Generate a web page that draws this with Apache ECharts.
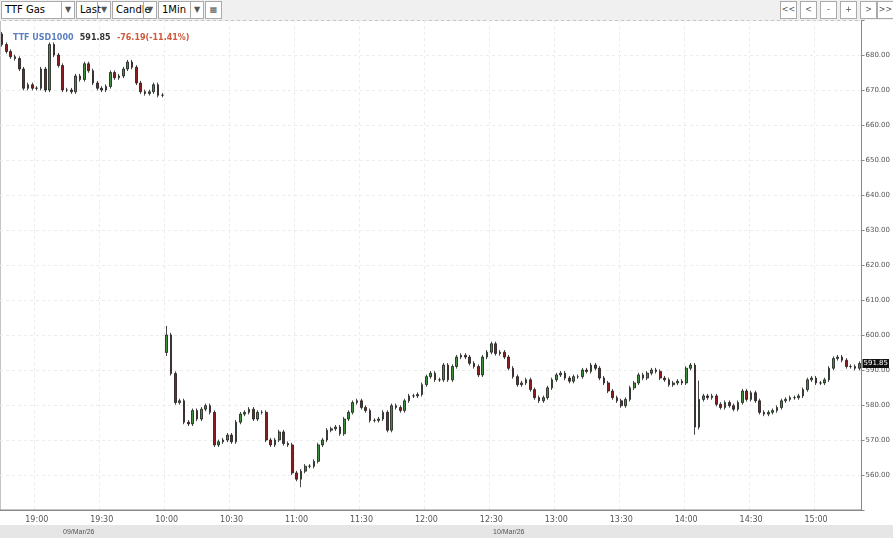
<!DOCTYPE html>
<html>
<head>
<meta charset="utf-8">
<script src="https://cdn.jsdelivr.net/npm/echarts@6/dist/echarts.min.js"></script>
<style>
  body { margin: 0; background: #fff; font-family: "DejaVu Sans", sans-serif; }
  #bar { position: absolute; left: 0; top: 0; width: 893px; height: 20px; background: #f0f0f0; }
  .dd { position: absolute; top: 1px; height: 16px; border: 1px solid #aaa; background: #fff; font-size: 10px; line-height: 16px; padding-left: 3px; box-sizing: content-box; }
  .dd span { position: absolute; right: 0; top: 0; width: 12px; border-left: 1px solid #aaa; text-align: center; font-size: 8px; color: #555; }
  .nb { position: absolute; top: 1px; width: 15px; height: 16px; border: 1px solid #aaa; background: #fff; font-size: 8px; line-height: 16px; text-align: center; color: #555; }
  #chart { position: absolute; left: 0; top: 0; width: 893px; height: 538px; }
</style>
</head>
<body>
<div id="chart"></div>
<div id="bar">
  <div class="dd" style="left:1px;width:69px">TTF Gas<span>▼</span></div>
  <div class="dd" style="left:76px;width:30px">Last<span>▼</span></div>
  <div class="dd" style="left:112px;width:40px">Candle<span>▼</span></div>
  <div class="dd" style="left:158px;width:41px">1Min<span>▼</span></div>
  <div class="nb" style="left:205px">▦</div>
  <div class="nb" style="left:780px">&lt;&lt;</div>
  <div class="nb" style="left:800px">&lt;</div>
  <div class="nb" style="left:820px">-</div>
  <div class="nb" style="left:840px">+</div>
  <div class="nb" style="left:860px">&gt;</div>
  <div class="nb" style="left:877px">&gt;&gt;</div>
</div>
<script>
// session 1: 09/Mar 18:44 - 19:58, 2-minute steps
const closes1 = [683, 681, 679.5, 679, 676, 670.5, 671.5, 670.5, 670.5, 676, 670, 683, 680,
  677, 670, 670, 669.5, 674, 673, 677.5, 675.5, 672, 670.5, 670, 671, 675, 673.5, 674, 676,
  678, 676.5, 672, 669.5, 669, 669.5, 671.5, 668.5, 668.5];
const open1 = 686;
// session 2: 10/Mar 10:00 - 15:20, 2-minute steps
const closes2 = [600, 589, 580.7, 581.2, 575.1, 574.6, 578.4, 576, 578.8, 579.8, 577.9, 568.6,
  569.5, 570, 571.4, 569.5, 575.1, 577.4, 577.9, 578.8, 576, 577.9, 577.9, 570, 568.6, 570,
  572.3, 569, 568.6, 560.6, 558.8, 561.1, 562.5, 562.5, 563.9, 568.6, 570, 572.8, 573.2, 573.7,
  571.8, 576, 577.9, 580.7, 581.2, 579.3, 578.4, 575.6, 575.6, 576, 577.9, 572.8, 579.8, 579.3,
  578.4, 581.2, 582.6, 582.6, 583, 585.8, 588.1, 589.1, 587.2, 587.2, 591.4, 587.2, 591, 593.7,
  594.2, 593.7, 591.9, 591, 588.6, 593.7, 595.1, 597.5,
  594.7, 595.1, 593.7, 590.5, 588.1, 585.8, 586.3, 587.2, 584.4, 582.1, 581.2, 582.1, 584.9,
  587.2, 588.6, 589.1, 587.7, 586.8, 588.1, 588.1, 590, 589.6, 591.4, 590.5, 587.7, 586.3, 584,
  582.1, 581.2, 579.8, 581.6, 584.9, 586.3, 588.6, 587.7, 589.1, 590, 589.6, 587.7, 587.2,
  585.8, 586.3, 586.8, 586.3, 590.5, 591.4, 573.7, 581.6, 582.6, 582.1, 582.6, 580.2, 579.3,
  580.7, 579.8, 578.8, 580.7, 584, 581.6, 583.5, 581.2, 577.9, 577.4, 577.9, 578.4, 579.3,
  581.2, 581.6, 582.1, 582.1, 582.6, 584.4, 587.2, 587.7, 586.3, 586.3, 587.2, 590.5, 593.3,
  593.7, 592.8, 591, 591, 590.5, 591.85];
const open2 = 595;
// extra wick extremes: time -> [high, low]
const spikes = { '10:00': [602.6, 594], '11:02': [559, 556.5], '14:04': [591.5, 571.5], '14:06': [587, 573] };
const lastPrice = 591.85;
const yTicks = [560, 570, 580, 590, 600, 610, 620, 630, 640, 650, 660, 670, 680];

function hm(h, m) { return String(h).padStart(2, '0') + ':' + String(m).padStart(2, '0'); }
const times = [], ohlc = [];
function addSession(closes, open, h, m) {
  let prev = open;
  closes.forEach(function (c, i) {
    const t = h * 60 + m + 2 * i;
    const label = hm(Math.floor(t / 60), t % 60);
    let hi = Math.max(prev, c) + 0.6, lo = Math.min(prev, c) - 0.6;
    if (spikes[label]) { hi = Math.max(hi, spikes[label][0]); lo = Math.min(lo, spikes[label][1]); }
    times.push(label);
    ohlc.push([prev, c, lo, hi]);
    prev = c;
  });
}
addSession(closes1, open1, 18, 44);
addSession(closes2, open2, 10, 0);

function onHalfHour(i) { return times[i].endsWith(':00') || times[i].endsWith(':30'); }

const chart = echarts.init(document.getElementById('chart'));
chart.setOption({
  animation: false,
  backgroundColor: '#fff',
  textStyle: { fontFamily: 'DejaVu Sans' },
  title: {
    left: 8, top: 24,
    text: '{a|TTF USD1000} {b|591.85} {c|-76.19(-11.41%)}',
    textStyle: { rich: {
      a: { color: '#5b7fc0', fontSize: 8, fontWeight: 'bold' },
      b: { color: '#333', fontSize: 8, fontWeight: 'bold' },
      c: { color: '#d0583a', fontSize: 8, fontWeight: 'bold' }
    } }
  },
  graphic: [
    { type: 'rect', left: 0, bottom: 0, shape: { width: 893, height: 13 }, style: { fill: '#e6e6e6' } },
    { type: 'text', left: 63, bottom: 2, style: { text: '09/Mar/26', fontSize: 7, fill: '#555' } },
    { type: 'text', left: 493, bottom: 2, style: { text: '10/Mar/26', fontSize: 7, fill: '#555' } }
  ],
  grid: { left: 0, right: 30, top: 20, bottom: 28, show: true, borderColor: '#888', borderWidth: 1 },
  xAxis: {
    type: 'category', data: times, boundaryGap: true,
    axisLine: { lineStyle: { color: '#888' } },
    axisTick: { interval: onHalfHour, lineStyle: { color: '#888' } },
    axisLabel: { interval: onHalfHour, fontSize: 8, color: '#555', margin: 6 },
    splitLine: { show: true, interval: onHalfHour, lineStyle: { color: '#ececec', type: [3, 3] } }
  },
  yAxis: {
    type: 'value', position: 'right', min: 550, max: 690, interval: 10,
    axisLine: { show: true, lineStyle: { color: '#888' } },
    axisTick: { show: true, length: 3, lineStyle: { color: '#888' } },
    axisLabel: {
      fontSize: 7, color: '#555', margin: 4,
      formatter: function (v) { return yTicks.indexOf(v) >= 0 ? v.toFixed(2) : ''; }
    },
    splitLine: { show: true, lineStyle: { color: '#ececec', type: [3, 3] } }
  },
  series: [{
    type: 'candlestick', data: ohlc, barMaxWidth: 3.5,
    itemStyle: { color: '#3f8f3f', color0: '#8a1e1e', borderColor: '#1a1a1a', borderColor0: '#1a1a1a', borderWidth: 0.8 },
    markLine: {
      symbol: 'none', silent: true, animation: false,
      lineStyle: { color: 'rgba(0,0,0,0)', width: 1, type: 'solid' },
      label: { show: true, position: 'end', formatter: '591.85', backgroundColor: '#111', color: '#fff', fontSize: 7, padding: [1, 1], distance: 1 },
      data: [{ yAxis: lastPrice }]
    }
  }]
});
</script>
</body>
</html>
